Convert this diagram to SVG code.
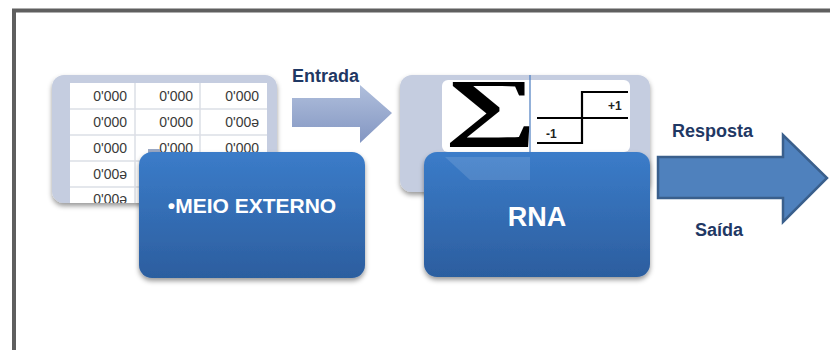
<svg xmlns="http://www.w3.org/2000/svg" width="830" height="350" viewBox="0 0 830 350">
<style>
.cell{font-family:"Liberation Sans",Arial,sans-serif;font-size:14px;fill:#3a3a3a;text-anchor:end}
.lbl{font-family:"Liberation Sans",Arial,sans-serif;font-size:18px;font-weight:bold;fill:#1f3864}
.wt{font-family:"Liberation Sans",Arial,sans-serif;font-weight:bold;fill:#fff;text-anchor:middle}
.grid{stroke:#dcdfe6;stroke-width:1.5;fill:none}
.sm{font-family:"Liberation Sans",Arial,sans-serif;font-size:12px;font-weight:bold;fill:#222}
</style>
<defs>
<linearGradient id="blue" x1="0" y1="0" x2="0" y2="1">
<stop offset="0" stop-color="#3b7cc9"/>
<stop offset="1" stop-color="#2c5e9f"/>
</linearGradient>
<linearGradient id="arr1" x1="0" y1="0" x2="0" y2="1">
<stop offset="0" stop-color="#b0bfdc"/>
<stop offset="1" stop-color="#8396c2"/>
</linearGradient>
<filter id="sh" x="-10%" y="-10%" width="120%" height="130%">
<feDropShadow dx="0" dy="3" stdDeviation="2.5" flood-color="#000" flood-opacity="0.4"/>
</filter>
<clipPath id="tclip"><rect x="70" y="83" width="197" height="120"/></clipPath>
</defs>
<rect x="0" y="0" width="830" height="350" fill="#fff"/>
<path d="M14 350 V10.5 H830" fill="none" stroke="#5f5f5f" stroke-width="4"/>

<g id="meio-externo-table">
<rect x="52" y="75" width="225" height="128" rx="12" fill="#c5cde0" filter="url(#sh)"/>
<g clip-path="url(#tclip)">
<rect x="70" y="83" width="197" height="120" fill="#fff"/>
<path class="grid" d="M135 83V203M200 83V203M70 109H267M70 135H267M70 161H267M70 187H267"/>
<text class="cell" x="127" y="101">0'000</text>
<text class="cell" x="193" y="101">0'000</text>
<text class="cell" x="259" y="101">0'000</text>
<text class="cell" x="127" y="127">0'000</text>
<text class="cell" x="193" y="127">0'000</text>
<text class="cell" x="259" y="127">0'00ə</text>
<text class="cell" x="127" y="153">0'000</text>
<text class="cell" x="193" y="153">0'000</text>
<text class="cell" x="259" y="153">0'000</text>
<text class="cell" x="127" y="179">0'00ə</text>
<text class="cell" x="127" y="204">0'00ə</text>
</g>
<rect x="148" y="149" width="12" height="6" fill="#9aa8c4"/>
</g>

<g id="meio-externo">
<rect x="139" y="152" width="226" height="126" rx="13" fill="url(#blue)" filter="url(#sh)"/>
<text class="wt" x="252" y="213" font-size="21">•MEIO EXTERNO</text>
</g>

<g id="rna-bg">
<rect x="400" y="75" width="250" height="117" rx="12" fill="#c5cde0" filter="url(#sh)"/>
<rect x="442" y="80" width="188" height="72" rx="6" fill="#fff"/>
<text transform="translate(491,131) scale(1.36,0.78)" x="0" y="0" font-family="'Liberation Serif','DejaVu Serif',serif" font-size="96" font-weight="bold" text-anchor="middle" fill="#000">∑</text>
<line x1="530" y1="75" x2="530" y2="165" stroke="#4a7cc0" stroke-width="1.2"/>
<path d="M537 118H628M537 143H582V92H628" fill="none" stroke="#000" stroke-width="2.2"/>
<text class="sm" x="608" y="110">+1</text>
<text class="sm" x="546" y="138">-1</text>
</g>

<g id="rna">
<rect x="424" y="152" width="226" height="125" rx="13" fill="url(#blue)" filter="url(#sh)"/>
<path d="M445 157H530V180H470Z" fill="#fff" opacity="0.12"/>
<text class="wt" x="537" y="226" font-size="27">RNA</text>
</g>

<g id="connectors">
<path d="M292 98H360V85L392 113L360 143V127H292Z" fill="url(#arr1)"/>
<text class="lbl" x="292" y="82">Entrada</text>
<path d="M658 157H783V135L827 178L783 222V198H658Z" fill="#4f81bd" stroke="#3a5f8c" stroke-width="2.5" stroke-linejoin="miter"/>
<text class="lbl" x="672" y="137">Resposta</text>
<text class="lbl" x="695" y="236">Saída</text>
</g>
</svg>
